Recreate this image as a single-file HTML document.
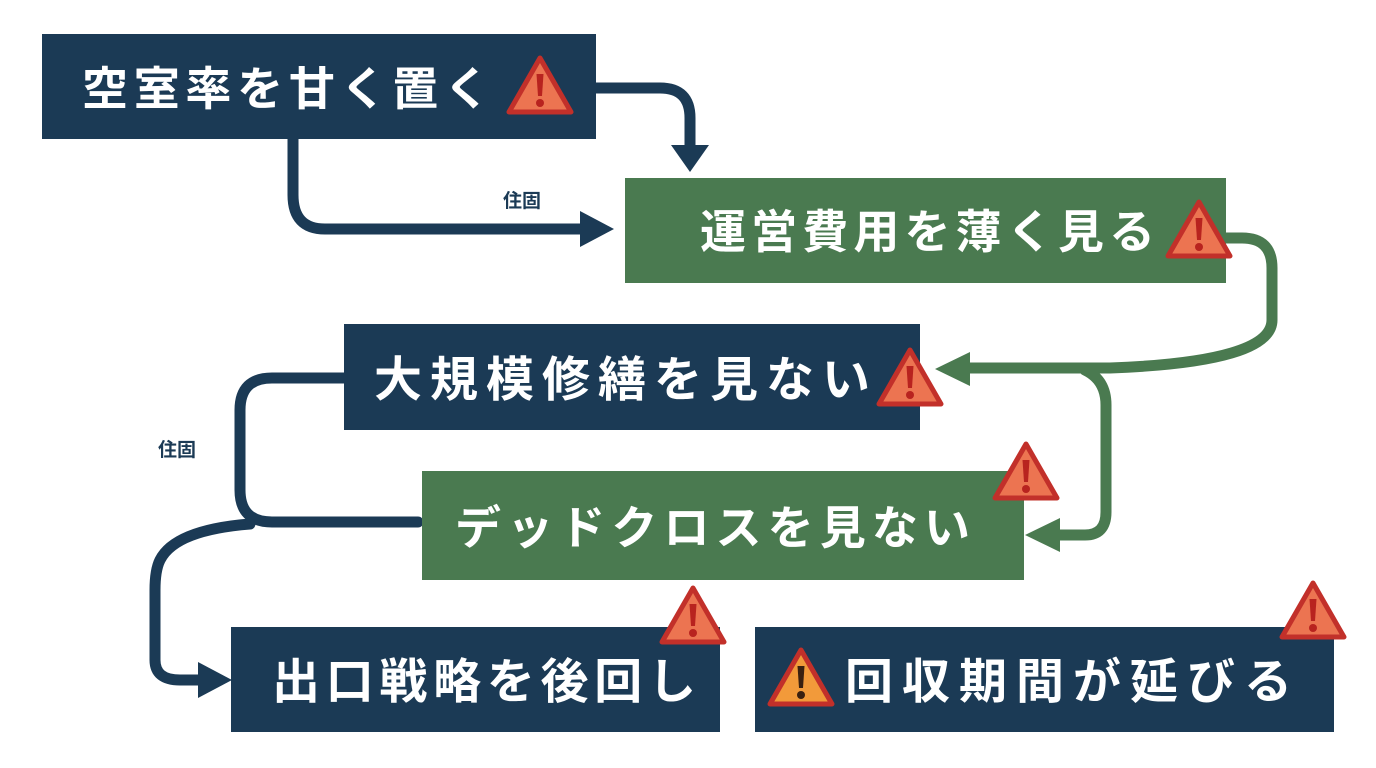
<!DOCTYPE html>
<html><head><meta charset="utf-8"><style>
html,body{margin:0;padding:0;background:#fff;}
svg{display:block;}
text{font-family:"Liberation Sans","Noto Sans CJK JP",sans-serif;font-weight:bold;}
</style></head><body>
<svg width="1376" height="768" viewBox="0 0 1376 768" xmlns="http://www.w3.org/2000/svg">
<defs>
<g id="warn">
<path d="M0,-30 L31,24 L-31,24 Z" fill="#ec7451" stroke="#c2302a" stroke-width="5" stroke-linejoin="round"/>
<path d="M-3.5,-14 L3.5,-14 L2,8 L-2,8 Z" fill="#b8231f"/>
<circle cx="0" cy="15" r="4" fill="#b8231f"/>
</g>
<g id="warnO">
<path d="M0,-30 L31,24 L-31,24 Z" fill="#f29a3a" stroke="#c2302a" stroke-width="5" stroke-linejoin="round"/>
<path d="M-3.5,-14 L3.5,-14 L2,8 L-2,8 Z" fill="#3a2010"/>
<circle cx="0" cy="15" r="4" fill="#3a2010"/>
</g>
</defs>
<g fill="none" stroke-width="11" stroke-linecap="round">
<!-- navy connectors -->
<path d="M596,88 H660 Q690,88 690,118 V145" stroke="#1b3a55"/>
<path d="M293,139 V195 Q293,229 325,229 H582" stroke="#1b3a55"/>
<path d="M344,378 H272 Q240,378 240,410 V490 Q240,522 272,522 H418" stroke="#1b3a55"/>
<path d="M250,524 Q175,530 160,560 Q155,570 155,590 V660 Q155,680 180,680 H200" stroke="#1b3a55"/>
<!-- green connectors -->
<path d="M1226,238 H1242 Q1272,238 1272,268 V320 Q1272,362 1110,368 H968" stroke="#4a7a50"/>
<path d="M1085,370 Q1106,380 1106,405 V512 Q1106,535 1085,535 H1058" stroke="#4a7a50"/>
</g>
<!-- arrowheads -->
<path d="M671,145 L709,145 L690,172 Z" fill="#1b3a55"/>
<path d="M580,211 L580,247 L614,229 Z" fill="#1b3a55"/>
<path d="M198,662 L198,698 L232,680 Z" fill="#1b3a55"/>
<path d="M970,352 L970,386 L935,369 Z" fill="#4a7a50"/>
<path d="M1060,518 L1060,552 L1025,535 Z" fill="#4a7a50"/>
<!-- labels -->
<text x="503" y="207" font-size="19" fill="#1b3a55">住固</text>
<text x="158" y="456" font-size="19" fill="#1b3a55">住固</text>
<!-- boxes -->
<rect x="42" y="34" width="554" height="105" fill="#1b3a55"/>
<rect x="625" y="178" width="601" height="105" fill="#4a7a50"/>
<rect x="344" y="324" width="576" height="106" fill="#1b3a55"/>
<rect x="422" y="471" width="602" height="109" fill="#4a7a50"/>
<rect x="231" y="627" width="489" height="105" fill="#1b3a55"/>
<rect x="755" y="627" width="579" height="105" fill="#1b3a55"/>
<!-- texts -->
<text x="82" y="105" font-size="46" fill="#fff" textLength="408" lengthAdjust="spacing">空室率を甘く置く</text>
<text x="700" y="248" font-size="46" fill="#fff" textLength="455" lengthAdjust="spacing">運営費用を薄く見る</text>
<text x="374" y="396" font-size="48" fill="#fff" textLength="496" lengthAdjust="spacing">大規模修繕を見ない</text>
<text x="455" y="544" font-size="46" fill="#fff" textLength="515" lengthAdjust="spacing">デッドクロスを見ない</text>
<text x="272" y="698" font-size="48" fill="#fff" textLength="424" lengthAdjust="spacing">出口戦略を後回し</text>
<text x="845" y="698" font-size="48" fill="#fff" textLength="447" lengthAdjust="spacing">回収期間が延びる</text>
<!-- warnings -->
<use href="#warn" x="540" y="88"/>
<use href="#warn" x="1199" y="232"/>
<use href="#warn" x="910" y="380"/>
<use href="#warn" x="1026" y="474"/>
<use href="#warn" x="693" y="618"/>
<use href="#warn" x="1313" y="613"/>
<use href="#warnO" x="801" y="680"/>
</svg>
</body></html>
